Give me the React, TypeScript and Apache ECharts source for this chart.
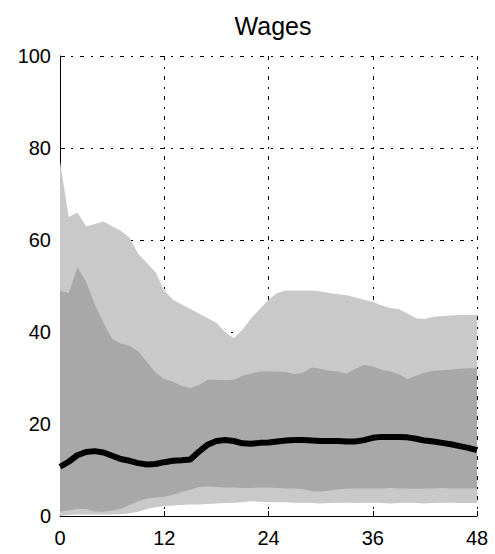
import React, { useEffect, useRef } from "react";
import * as echarts from "echarts";

const months = [
  "0", "1", "2", "3", "4", "5", "6", "7", "8", "9", "10", "11", "12",
  "13", "14", "15", "16", "17", "18", "19", "20", "21", "22", "23", "24",
  "25", "26", "27", "28", "29", "30", "31", "32", "33", "34", "35", "36",
  "37", "38", "39", "40", "41", "42", "43", "44", "45", "46", "47", "48",
];

const outerUpper = [
  77, 65, 66, 63, 63.5, 64, 63, 62, 60.5, 57, 55, 53, 49,
  47, 46, 45, 44, 43, 42, 40, 38.7, 40.5, 43, 45, 47,
  48.5, 49, 49, 49, 49, 48.8, 48.5, 48.2, 48, 47.5, 47, 46.5,
  45.8, 45.2, 45, 44, 43, 42.8, 43.3, 43.5, 43.6, 43.7, 43.7, 43.7,
];

const innerUpper = [
  49, 48.5, 54, 51, 46, 42, 38.5, 37.5, 37, 35.8, 33.5, 31.2, 29.8,
  29.2, 28.3, 27.8, 28.5, 29.6, 29.6, 29.5, 29.6, 30.5, 31, 31.4, 31.4,
  31.4, 31.3, 30.8, 31.2, 32.3, 32, 31.6, 31.4, 31, 32, 32.8, 32.5,
  31.8, 31.4, 30.8, 29.8, 30.5, 31.2, 31.6, 31.7, 31.8, 32, 32.1, 32.1,
];

const innerLower = [
  1.0, 1.2, 1.6, 1.5, 1.0, 0.9, 1.2, 1.6, 2.4, 3.2, 3.8, 4.0, 4.2,
  4.6, 5.2, 5.7, 6.3, 6.4, 6.3, 6.2, 6.2, 6.1, 6.1, 6.2, 6.2,
  6.1, 6.0, 6.0, 5.8, 5.4, 5.3, 5.5, 5.8, 5.9, 6.0, 6.0, 6.0,
  6.0, 6.1, 6.0, 6.0, 5.9, 6.0, 6.0, 6.1, 6.0, 6.0, 6.0, 6.0,
];

const outerLower = [
  0, 0.2, 0.3, 0.3, 0.3, 0.3, 0.3, 0.4, 0.6, 0.9, 1.5, 1.9, 2.1,
  2.3, 2.4, 2.5, 2.5, 2.6, 2.7, 2.8, 2.9, 3.0, 3.2, 3.1, 3.0,
  3.0, 3.0, 2.9, 2.9, 2.8, 2.7, 2.8, 2.9, 2.9, 2.8, 2.9, 2.9,
  2.8, 2.7, 2.8, 2.9, 2.8, 2.7, 2.8, 2.9, 2.9, 2.8, 2.8, 2.8,
];

const median = [
  10.7, 11.8, 13.2, 13.9, 14.1, 13.8, 13.1, 12.4, 12.0, 11.5, 11.2, 11.3, 11.7,
  12.0, 12.1, 12.3, 14.0, 15.5, 16.3, 16.5, 16.3, 15.8, 15.7, 15.9, 16.0,
  16.2, 16.4, 16.5, 16.5, 16.4, 16.3, 16.3, 16.3, 16.2, 16.2, 16.5, 17.0,
  17.2, 17.2, 17.2, 17.1, 16.8, 16.4, 16.2, 15.9, 15.6, 15.2, 14.8, 14.3,
];

const yTicks = { min: 0, max: 100, interval: 20 };

const LIGHT = "#c9c9c9";
const DARK = "#a8a8a8";
const FONT = "Liberation Sans, Arial, sans-serif";

export default function App() {
  const ref = useRef<HTMLDivElement>(null);

  useEffect(() => {
    if (!ref.current) return;
    const chart = echarts.init(ref.current, null, { renderer: "svg" });
    const outerBand = outerUpper.map((v, i) => +(v - outerLower[i]).toFixed(2));
    const innerBand = innerUpper.map((v, i) => +(v - innerLower[i]).toFixed(2));
    const gridLine = {
      show: true,
      lineStyle: { color: "#000", width: 1, type: [4, 7, 2, 7] as any },
    };
    const hidden = {
      type: "line",
      symbol: "none",
      lineStyle: { width: 0, opacity: 0 },
      silent: true,
    };
    chart.setOption({
      animation: false,
      backgroundColor: "#fff",
      title: {
        text: "Wages",
        left: 268,
        textAlign: "center",
        top: 8,
        textStyle: { fontFamily: FONT, fontSize: 25, fontWeight: "normal", color: "#000" },
      },
      grid: { left: 60, right: 18, top: 56, bottom: 38 },
      xAxis: {
        type: "category",
        data: months,
        boundaryGap: false,
        axisLine: { show: true, lineStyle: { color: "#000", width: 1 } },
        axisTick: { show: true, inside: true, length: 5, interval: 11, lineStyle: { color: "#000" } },
        axisLabel: { interval: 11, margin: 12, color: "#000", fontFamily: FONT, fontSize: 20 },
        splitLine: { ...gridLine, interval: 11 },
      },
      yAxis: {
        type: "value",
        ...yTicks,
        axisLine: { show: true, lineStyle: { color: "#000", width: 1 } },
        axisTick: { show: true, inside: true, length: 5, lineStyle: { color: "#000" } },
        axisLabel: { margin: 9, color: "#000", fontFamily: FONT, fontSize: 20 },
        splitLine: gridLine,
      },
      series: [
        { ...hidden, name: "outerBase", stack: "outer", data: outerLower },
        {
          type: "line",
          name: "outerBand",
          stack: "outer",
          symbol: "none",
          data: outerBand,
          lineStyle: { width: 0, opacity: 0 },
          areaStyle: { color: LIGHT, opacity: 1 },
        },
        { ...hidden, name: "innerBase", stack: "inner", data: innerLower },
        {
          type: "line",
          name: "innerBand",
          stack: "inner",
          symbol: "none",
          data: innerBand,
          lineStyle: { width: 0, opacity: 0 },
          areaStyle: { color: DARK, opacity: 1 },
        },
        {
          type: "line",
          name: "median",
          symbol: "none",
          data: median,
          lineStyle: { color: "#000", width: 6 },
        },
      ],
    });
    return () => chart.dispose();
  }, []);

  return (
    <div
      ref={ref}
      style={{ position: "absolute", left: 0, top: 0, width: 495, height: 554 }}
    />
  );
}
